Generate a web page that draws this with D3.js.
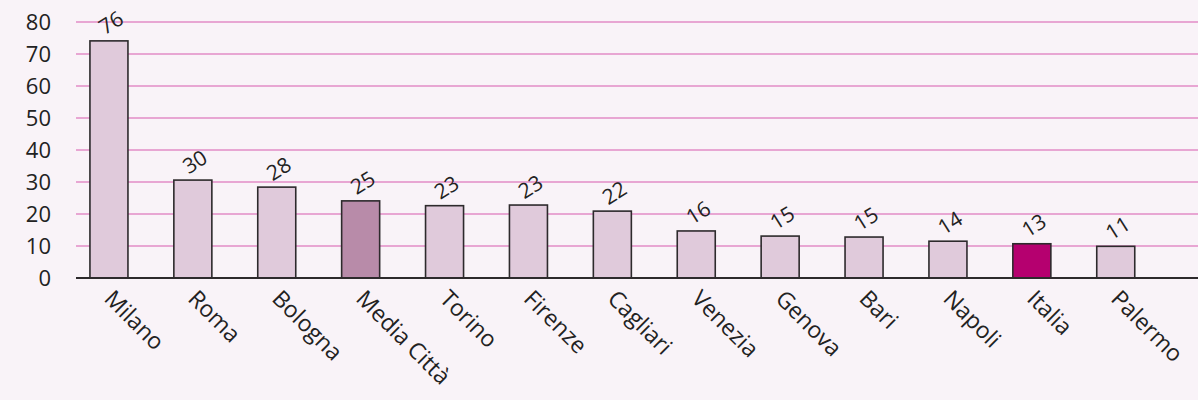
<!DOCTYPE html>
<html>
<head>
<meta charset="utf-8">
<script src="https://cdn.jsdelivr.net/npm/d3@7"></script>
<style>
  html, body { margin: 0; padding: 0; background: #f9f3f8; }
  svg { display: block; }
</style>
</head>
<body>
<svg id="chart" width="1198" height="400"></svg>
<script>
const categories = ["Milano", "Roma", "Bologna", "Media Città", "Torino", "Firenze", "Cagliari", "Venezia", "Genova", "Bari", "Napoli", "Italia", "Palermo"];
const values = [74.1, 30.6, 28.4, 24.1, 22.6, 22.8, 20.9, 14.7, 13.1, 12.8, 11.5, 10.7, 9.9];
const valueLabels = ["76", "30", "28", "25", "23", "23", "22", "16", "15", "15", "14", "13", "11"];
const yTicks = [0, 10, 20, 30, 40, 50, 60, 70, 80];
const highlight = { "Media Città": "#b88ba9", "Italia": "#b5006f" };

const W = 1198, H = 400;
const svg = d3.select("#chart");
svg.append("rect").attr("width", W).attr("height", H).attr("fill", "#f9f3f8");

const y = d3.scaleLinear().domain([0, 80]).range([278, 22]);
const x = d3.scaleBand().domain(categories).range([67, 1157.7]).paddingInner(0.547).paddingOuter(0.2735);

// gridlines
svg.append("g").selectAll("line").data(yTicks.filter(d => d > 0)).join("line")
  .attr("x1", 76).attr("x2", W)
  .attr("y1", d => y(d)).attr("y2", d => y(d))
  .attr("stroke", "#e8a6d3").attr("stroke-width", 2);

// y axis ticks
const yAxis = d3.axisLeft(y).tickValues(yTicks).tickSize(0).tickPadding(0);
const gy = svg.append("g").attr("transform", "translate(51,0)").call(yAxis);
gy.select(".domain").remove();
gy.selectAll("text")
  .attr("font-family", "'Open Sans', sans-serif")
  .attr("font-size", 22)
  .attr("fill", "#222");

// bars
svg.append("g").selectAll("rect").data(categories).join("rect")
  .attr("x", d => x(d))
  .attr("width", x.bandwidth())
  .attr("y", (d, i) => y(values[i]))
  .attr("height", (d, i) => y(0) - y(values[i]))
  .attr("fill", d => highlight[d] || "#e0cadb")
  .attr("stroke", "#2d2a2c").attr("stroke-width", 1.6);

// baseline
svg.append("line").attr("x1", 76).attr("x2", W)
  .attr("y1", y(0)).attr("y2", y(0))
  .attr("stroke", "#2d2a2c").attr("stroke-width", 2);

// value labels
svg.append("g").selectAll("text").data(categories).join("text")
  .attr("transform", (d, i) => `translate(${x(d) + x.bandwidth() / 2 + 6},${y(values[i]) - 12}) rotate(-32)`)
  .attr("text-anchor", "middle")
  .attr("font-family", "'Open Sans', sans-serif")
  .attr("font-size", 21)
  .attr("fill", "#222")
  .text((d, i) => valueLabels[i]);

// category labels
const xAxis = d3.axisBottom(x).tickSize(0).tickPadding(0);
const gx = svg.append("g").attr("transform", `translate(0,${y(0)})`).call(xAxis);
gx.select(".domain").remove();
gx.selectAll("text")
  .attr("font-family", "'Open Sans', sans-serif")
  .attr("font-size", 23)
  .attr("fill", "#222")
  .attr("text-anchor", "start")
  .attr("dy", null).attr("y", null)
  .attr("transform", "translate(-6,22) rotate(45)");
</script>
</body>
</html>
